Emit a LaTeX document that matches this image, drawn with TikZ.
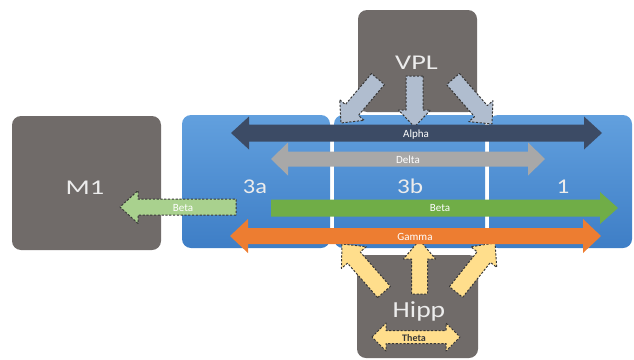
\documentclass[tikz,border=0pt]{standalone}
\usepackage{fontspec}
\setmainfont{Carlito}
\usetikzlibrary{calc}
\definecolor{boxgray}{RGB}{112,107,105}
\definecolor{blueT}{RGB}{98,160,222}
\definecolor{blueB}{RGB}{62,126,198}
\definecolor{alphaC}{RGB}{60,75,101}
\definecolor{deltaC}{RGB}{168,168,168}
\definecolor{betaC}{RGB}{112,173,71}
\definecolor{gammaC}{RGB}{237,125,49}
\definecolor{ltgreen}{RGB}{169,209,142}
\definecolor{vplC}{RGB}{176,189,207}
\definecolor{hippC}{RGB}{255,222,140}
\definecolor{dashC}{RGB}{55,55,55}
\definecolor{bigtxt}{RGB}{236,236,236}
\newcommand\blockarrow[6]{%
  \path (#2) coordinate (bkA) (#3) coordinate (bkB);
  \path ($(bkB)!#6!(bkA)$) coordinate (bkH);
  \draw[#1] ($(bkA)!#4!90:(bkB)$) -- ($(bkH)!#4!-90:(bkA)$) -- ($(bkH)!#5!-90:(bkA)$) -- (bkB)
    -- ($(bkH)!#5!90:(bkA)$) -- ($(bkH)!#4!90:(bkA)$) -- ($(bkA)!#4!-90:(bkB)$) -- cycle;}
\newcommand\dblarrow[6]{%
  \path (#2) coordinate (bkA) (#3) coordinate (bkB);
  \path ($(bkA)!#6!(bkB)$) coordinate (bkP) ($(bkB)!#6!(bkA)$) coordinate (bkQ);
  \draw[#1] (bkA) -- ($(bkP)!#5!90:(bkB)$) -- ($(bkP)!#4!90:(bkB)$) -- ($(bkQ)!#4!-90:(bkA)$)
    -- ($(bkQ)!#5!-90:(bkA)$) -- (bkB) -- ($(bkQ)!#5!90:(bkA)$) -- ($(bkQ)!#4!90:(bkA)$)
    -- ($(bkP)!#4!-90:(bkB)$) -- ($(bkP)!#5!-90:(bkB)$) -- cycle;}
\begin{document}
\begin{tikzpicture}[x=1pt,y=-1pt,
  graybox/.style={fill=boxgray, draw=none, rounded corners=9pt, inner sep=0pt},
  bluebox/.style={top color=blueT, bottom color=blueB, draw=none, rounded corners=9pt, inner sep=0pt},
  bigl/.style={text=bigtxt, anchor=base, inner sep=0pt, font=\fontsize{21}{24}\selectfont},
  lbl/.style={text=white, inner sep=0pt, font=\fontsize{11}{13}\selectfont},
  dashedge/.style={draw=dashC, line width=1pt, dash pattern=on 2.2pt off 1.6pt, line join=round},
  solidarrow/.style={draw=none}]
\useasboundingbox (0,0) rectangle (634,359);
% boxes
\node[graybox, minimum width=149pt, minimum height=134pt] (M1) at (86.5,183) {};
\node[graybox, minimum width=119pt, minimum height=102pt] (VPL) at (417.5,61) {};
\node[graybox, minimum width=121pt, minimum height=103pt] (Hipp) at (417.5,306.5) {};
\node[bluebox, minimum width=148pt, minimum height=133pt] (A3a) at (256,181.5) {};
\node[bluebox, minimum width=151pt, minimum height=133pt] (A3b) at (409.5,181.5) {};
\node[bluebox, minimum width=143pt, minimum height=133pt] (A1) at (560.5,181.5) {};
% labels of boxes
\node[bigl] (tM1) at (85,194) {\scalebox{1.35}[1]{M1}};
\node[bigl] (tVPL) at (416.5,69) {\scalebox{1.35}[1]{VPL}};
\node[bigl, font=\fontsize{23}{26}\selectfont] (tHipp) at (419,317) {\scalebox{1.2}[1]{Hipp}};
\node[bigl] (t3a) at (255,193) {\scalebox{1.16}[1]{3a}};
\node[bigl] (t3b) at (410,193) {\scalebox{1.2}[1]{3b}};
\node[bigl] (t1) at (563,193) {\scalebox{1.2}[1]{1}};
% arrow end points
\coordinate (vcS) at (414.5,76);  \coordinate (vcE) at (414.5,127);
\coordinate (vlS) at (378,79);    \coordinate (vlE) at (341,123);
\coordinate (vrS) at (453,79);    \coordinate (vrE) at (492,124);
\coordinate (hcS) at (419.5,294); \coordinate (hcE) at (419.5,240);
\coordinate (hlS) at (384,292);   \coordinate (hlE) at (342,244);
\coordinate (hrS) at (456,292);   \coordinate (hrE) at (495,243);
\coordinate (alL) at (231,133);   \coordinate (alR) at (602,133);
\coordinate (deL) at (271,159);   \coordinate (deR) at (545,159);
\coordinate (beL) at (271,208);   \coordinate (beR) at (618,208);
\coordinate (gaL) at (230,236);   \coordinate (gaR) at (601,236);
\coordinate (mbS) at (236,207);   \coordinate (mbE) at (120,207);
\coordinate (thL) at (372,337);   \coordinate (thR) at (460,337);
% VPL arrows
\blockarrow{fill=vplC, dashedge}{vlS}{vlE}{8.5pt}{16pt}{17pt}
\blockarrow{fill=vplC, dashedge}{vrS}{vrE}{8.5pt}{16pt}{17pt}
\blockarrow{fill=vplC, dashedge}{vcS}{vcE}{8.5pt}{16pt}{17pt}
% Hipp arrows
\blockarrow{fill=hippC, dashedge}{hlS}{hlE}{8.5pt}{16.5pt}{18pt}
\blockarrow{fill=hippC, dashedge}{hrS}{hrE}{8.5pt}{16.5pt}{18pt}
\blockarrow{fill=hippC, dashedge}{hcS}{hcE}{8pt}{16pt}{19pt}
% cortical arrows
\dblarrow{fill=alphaC, solidarrow}{alL}{alR}{8.5pt}{16.5pt}{18pt}
\dblarrow{fill=deltaC, solidarrow}{deL}{deR}{7.5pt}{16.5pt}{17pt}
\blockarrow{fill=betaC, solidarrow}{beL}{beR}{8.5pt}{16pt}{18pt}
\dblarrow{fill=gammaC, solidarrow}{gaL}{gaR}{8pt}{17pt}{18pt}
\blockarrow{fill=ltgreen, dashedge}{mbS}{mbE}{8pt}{16.5pt}{18pt}
\dblarrow{fill=hippC, dashedge}{thL}{thR}{6.5pt}{14pt}{14pt}
% arrow labels
\node[lbl] (lAlpha) at (416,134.5) {Alpha};
\node[lbl] (lDelta) at (408,159.5) {Delta};
\node[lbl] (lBeta) at (440,208.5) {Beta};
\node[lbl] (lGamma) at (415,236.5) {Gamma};
\node[lbl] (lBetaM) at (183,208.5) {Beta};
\node[lbl, text=dashC, font=\fontsize{10}{12}\selectfont\bfseries] (lTheta) at (414,338) {Theta};
\end{tikzpicture}
\end{document}
